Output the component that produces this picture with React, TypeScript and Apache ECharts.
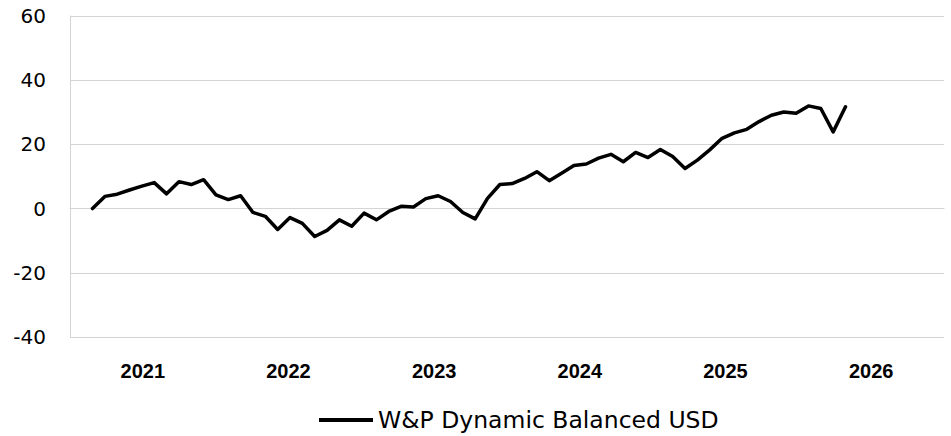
import { useEffect, useRef } from 'react';
import * as echarts from 'echarts';

const seriesName = 'W&P Dynamic Balanced USD';

const yearLabels = ['2021', '2022', '2023', '2024', '2025', '2026'];

const yTicks = { min: -40, max: 60, interval: 20 };

const monthLabels = [
  '2020-08', '2020-09', '2020-10', '2020-11', '2020-12',
  '2021-01', '2021-02', '2021-03', '2021-04', '2021-05', '2021-06',
  '2021-07', '2021-08', '2021-09', '2021-10', '2021-11', '2021-12',
  '2022-01', '2022-02', '2022-03', '2022-04', '2022-05', '2022-06',
  '2022-07', '2022-08', '2022-09', '2022-10', '2022-11', '2022-12',
  '2023-01', '2023-02', '2023-03', '2023-04', '2023-05', '2023-06',
  '2023-07', '2023-08', '2023-09', '2023-10', '2023-11', '2023-12',
  '2024-01', '2024-02', '2024-03', '2024-04', '2024-05', '2024-06',
  '2024-07', '2024-08', '2024-09', '2024-10', '2024-11', '2024-12',
  '2025-01', '2025-02', '2025-03', '2025-04', '2025-05', '2025-06',
  '2025-07', '2025-08', '2025-09',
];

const performance = [
  0.0, 3.8, 4.5, 5.8, 7.0,
  8.1, 4.6, 8.4, 7.5, 9.0, 4.3,
  2.8, 4.0, -1.2, -2.4, -6.5, -2.8,
  -4.6, -8.7, -6.8, -3.5, -5.5, -1.4,
  -3.5, -0.9, 0.7, 0.5, 3.1, 4.0,
  2.2, -1.2, -3.2, 3.2, 7.5, 7.8,
  9.4, 11.5, 8.7, 11.0, 13.4, 13.9,
  15.7, 16.9, 14.6, 17.5, 15.9, 18.4,
  16.2, 12.5, 15.1, 18.3, 21.9, 23.6,
  24.7, 27.1, 29.1, 30.1, 29.7, 32.0,
  31.2, 23.9, 31.7,
];

export default function App() {
  const ref = useRef<HTMLDivElement>(null);

  useEffect(() => {
    document.body.style.margin = '0';
    const chart = echarts.init(ref.current as HTMLDivElement, null, { renderer: 'svg' });
    const gridColor = '#d4d4d4';
    chart.setOption({
      animation: false,
      backgroundColor: '#ffffff',
      grid: [
        { left: 70, right: 7, top: 16, bottom: 99 },
        { left: 92.5, right: 105.5, top: 16, bottom: 99 },
      ],
      xAxis: [
        {
          type: 'category',
          gridIndex: 0,
          data: yearLabels,
          boundaryGap: true,
          axisLine: { show: true, lineStyle: { color: gridColor, width: 1 } },
          axisTick: { show: false },
          splitLine: { show: false },
          axisLabel: {
            fontFamily: 'Liberation Sans',
            fontWeight: 'bold',
            fontSize: 20,
            color: '#000000',
            margin: 24,
          },
        },
        {
          type: 'category',
          gridIndex: 1,
          data: monthLabels,
          boundaryGap: false,
          show: false,
        },
      ],
      yAxis: [
        {
          type: 'value',
          gridIndex: 0,
          min: yTicks.min,
          max: yTicks.max,
          interval: yTicks.interval,
          axisLine: { show: true, lineStyle: { color: gridColor, width: 1 } },
          axisTick: { show: false },
          splitLine: { show: true, lineStyle: { color: gridColor, width: 1 } },
          axisLabel: {
            fontFamily: 'DejaVu Sans',
            fontSize: 20,
            color: '#000000',
            margin: 24,
          },
        },
        {
          type: 'value',
          gridIndex: 1,
          min: yTicks.min,
          max: yTicks.max,
          show: false,
          splitLine: { show: false },
        },
      ],
      legend: {
        data: [seriesName],
        left: 319,
        top: 407,
        padding: 0,
        icon: 'rect',
        itemWidth: 54,
        itemHeight: 4,
        textStyle: {
          fontFamily: 'DejaVu Sans',
          fontSize: 23.5,
          color: '#000000',
          lineHeight: 26,
        },
      },
      series: [
        {
          name: seriesName,
          type: 'line',
          xAxisIndex: 1,
          yAxisIndex: 1,
          data: performance,
          symbol: 'none',
          showSymbol: false,
          itemStyle: { color: '#000000' },
          lineStyle: { color: '#000000', width: 3.5, cap: 'round', join: 'round' },
        },
      ],
    });
    return () => chart.dispose();
  }, []);

  return <div ref={ref} style={{ width: 951, height: 436 }} />;
}
